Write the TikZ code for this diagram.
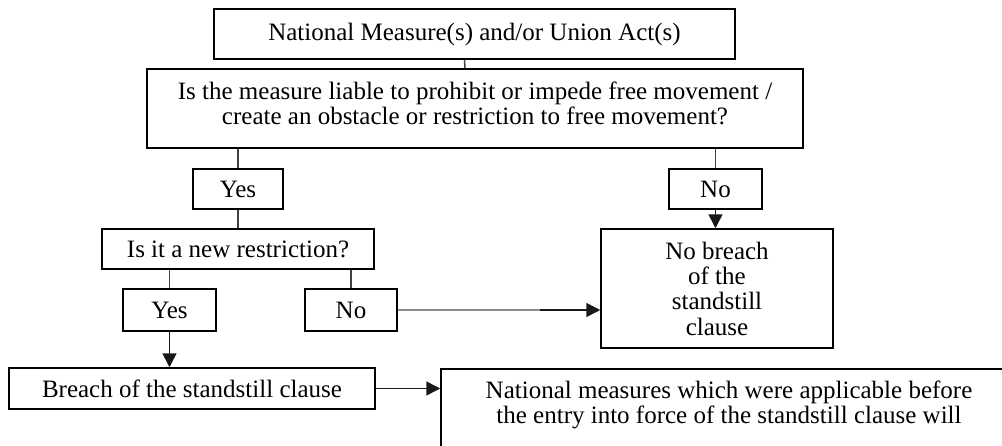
\documentclass[tikz,border=0pt]{standalone}
\usepackage{fontspec}
\setmainfont{Liberation Serif}
\usepackage{tikz}
\usetikzlibrary{shapes,arrows,arrows.meta}
\usetikzlibrary{positioning}
\tikzstyle{block} = [rectangle, draw, line width=1.5pt, align=center, inner sep=0pt,
    font=\fontsize{25}{25.3}\selectfont]
\tikzstyle{line} = [draw, line width=1.5pt, black!90, -{Triangle[length=14pt,width=14pt]}]
\tikzstyle{link} = [draw, line width=1.5pt, black!75]

\begin{document}
\begin{tikzpicture}[x=1pt,y=-1pt]
    \useasboundingbox (0,0) rectangle (1002,445);
    \clip (0,0) rectangle (1002,445);
    % Place nodes
    \node [block, minimum width=521pt, minimum height=50pt] (measures) at (474.5,34) {National Measure(s) and/or Union Act(s)};
    \node [block, minimum width=656pt, minimum height=79pt, text depth=11pt] (liable) at (475,108.5) {Is the measure liable to prohibit or impede free movement /\\create an obstacle or restriction to free movement?};
    \node [block, minimum width=90pt, minimum height=40pt] (yesa) at (238,189) {Yes};
    \node [block, minimum width=93pt, minimum height=40pt] (noa) at (715.5,189) {No};
    \node [block, minimum width=272pt, minimum height=40pt] (newrestr) at (238,249) {Is it a new restriction?};
    \node [block, minimum width=93pt, minimum height=42pt] (yesb) at (169.5,310) {Yes};
    \node [block, minimum width=92pt, minimum height=42pt] (nob) at (351,310) {No};
    \node [block, minimum width=232pt, minimum height=119pt] (nobreach) at (717,288.5) {No breach\\of the\\standstill\\clause};
    \node [block, minimum width=366pt, minimum height=41pt] (breach) at (192,388.5) {Breach of the standstill clause};
    \node [block, anchor=north, minimum width=576pt, inner ysep=12pt, text depth=70pt] (applic) at (729,368) {National measures which were applicable before\\the entry into force of the standstill clause will};
    \coordinate (nojoin) at (540,310);
    % Draw edges
    \path [link] ([xshift=-10pt]measures.south) -- ([xshift=-10pt]liable.north);
    \path [link] (yesa.north |- liable.south) -- (yesa.north);
    \path [link] (noa.north |- liable.south) -- (noa.north);
    \path [line] (noa.south) -- (noa.south |- nobreach.north);
    \path [link] (yesa.south) -- (newrestr.north);
    \path [link] (yesb.north |- newrestr.south) -- (yesb.north);
    \path [link] (nob.north |- newrestr.south) -- (nob.north);
    \path [link, black!45] (nob.east) -- (nojoin);
    \path [line] (nojoin) -- (nojoin -| nobreach.west);
    \path [line] (yesb.south) -- (yesb.south |- breach.north);
    \path [line] (breach.east) -- (breach.east -| applic.west);
\end{tikzpicture}
\end{document}
